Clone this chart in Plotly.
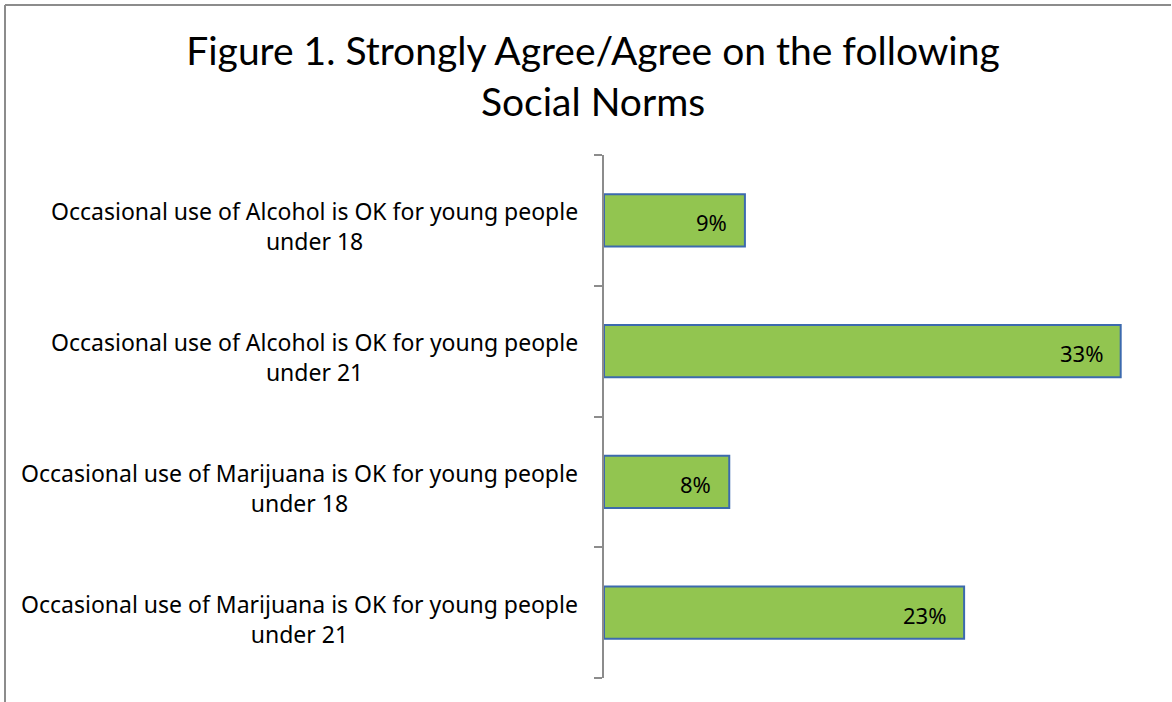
import plotly.graph_objects as go

categories = [
    "Occasional use of Alcohol is OK for young people<br>under 18",
    "Occasional use of Alcohol is OK for young people<br>under 21",
    "Occasional use of Marijuana is OK for young people<br>under 18",
    "Occasional use of Marijuana is OK for young people<br>under 21",
]
values = [0.09, 0.33, 0.08, 0.23]
labels = ["9%", "33%", "8%", "23%"]

fig = go.Figure()
fig.add_trace(go.Bar(
    y=categories, x=values, orientation="h",
    textposition="none",
    marker=dict(color="#92C550", line=dict(color="#3C6AAE", width=2)),
))

for c, v, t in zip(categories, values, labels):
    fig.add_annotation(
        x=0, xref="paper", y=c, yref="y", xanchor="right", xshift=-24, yshift=-6,
        text=c, showarrow=False, align="center",
        font=dict(family="Noto Sans", size=23, color="black"),
    )
    fig.add_annotation(
        x=v, xref="x", y=c, yref="y", xanchor="right", xshift=-16, yshift=-2,
        text=t, showarrow=False,
        font=dict(family="Noto Sans", size=22, color="black"),
    )

W0, H0 = 548, 523
top = (702 - 5 - 24) / H0
fig.update_layout(
    width=1172, height=702,
    margin=dict(l=604, r=20, t=155, b=24),
    paper_bgcolor="white", plot_bgcolor="white",
    bargap=0.6, showlegend=False,
    title=dict(
        text="Figure 1. Strongly Agree/Agree on the following<br>Social Norms",
        x=0.506, xanchor="center", y=0.9067, yanchor="middle",
        font=dict(family="Lato", size=39, color="black"),
    ),
    xaxis=dict(range=[0, 0.35], visible=False),
    yaxis=dict(
        autorange="reversed", showticklabels=False,
        showline=True, linecolor="#8C8C8C", linewidth=2,
        ticks="outside", ticklen=8, tickcolor="#8C8C8C", tickwidth=2,
        tickmode="array", tickvals=[-0.5, 0.5, 1.5, 2.5, 3.5],
        showgrid=False, zeroline=False,
    ),
)
fig.add_shape(type="line", xref="paper", yref="paper",
              x0=(5 - 604) / W0, x1=(1171 - 604) / W0, y0=top, y1=top,
              line=dict(color="#8C8C8C", width=2))
fig.add_shape(type="line", xref="paper", yref="paper",
              x0=(5 - 604) / W0, x1=(5 - 604) / W0, y0=top, y1=-24 / H0,
              line=dict(color="#8C8C8C", width=2))

fig.write_html("out.html")
